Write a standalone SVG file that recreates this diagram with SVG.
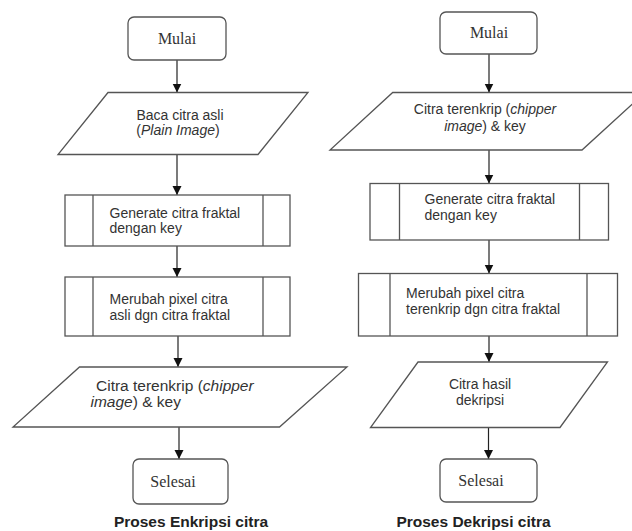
<svg xmlns="http://www.w3.org/2000/svg" width="632" height="531" viewBox="0 0 632 531">
<defs>
<marker id="ah" markerWidth="10" markerHeight="10" refX="9" refY="5" orient="auto" markerUnits="userSpaceOnUse">
<path d="M0,0.5 L9,5 L0,9.5 Z" fill="#111"/>
</marker>
<style>
.sh{fill:#fff;stroke:#555;stroke-width:1.3}
.ln{stroke:#555;stroke-width:1.3}
.cn{stroke:#222;stroke-width:1.2;fill:none;marker-end:url(#ah)}
.s{font-family:"Liberation Sans",Arial,sans-serif;font-size:14px;fill:#333}
.sl{font-family:"Liberation Sans",Arial,sans-serif;font-size:15.5px;fill:#333}
.t{font-family:"Liberation Serif","Times New Roman",serif;font-size:16px;fill:#333;text-anchor:middle}
.ttl{font-family:"Liberation Sans",Arial,sans-serif;font-size:15.5px;font-weight:bold;fill:#222;text-anchor:middle}
.c{text-anchor:middle}
</style>
</defs>
<rect width="632" height="531" fill="#fff"/>
<g id="connectors">
<line class="cn" x1="177" y1="60" x2="177" y2="92.5"/>
<line class="cn" x1="177" y1="154.5" x2="177" y2="195"/>
<line class="cn" x1="177" y1="246" x2="177" y2="277"/>
<line class="cn" x1="178" y1="336" x2="178" y2="367"/>
<line class="cn" x1="179" y1="427" x2="179" y2="459"/>
<line class="cn" x1="489" y1="54" x2="489" y2="92.5"/>
<line class="cn" x1="489" y1="150" x2="489" y2="183.5"/>
<line class="cn" x1="489" y1="240" x2="489" y2="273.5"/>
<line class="cn" x1="489" y1="336" x2="489" y2="362"/>
<line class="cn" x1="488.5" y1="427.5" x2="488.5" y2="459"/>
</g>
<g id="mulai1">
<rect class="sh" x="128" y="17" width="98" height="43" rx="6"/>
<text class="t" x="177" y="44">Mulai</text>
</g>
<g id="baca">
<polygon class="sh" points="108,92.5 308,92.5 258,154.5 58,154.5"/>
<text class="s c" x="180" y="119.5">Baca citra asli</text>
<text class="s c" x="178" y="134.5">(<tspan font-style="italic">Plain Image</tspan>)</text>
</g>
<g id="generate1">
<rect class="sh" x="65" y="195" width="225" height="51"/>
<line class="ln" x1="93" y1="195" x2="93" y2="246"/>
<line class="ln" x1="263" y1="195" x2="263" y2="246"/>
<text class="s" x="109.5" y="217.5">Generate citra fraktal</text>
<text class="s" x="109.5" y="232.5">dengan key</text>
</g>
<g id="merubah1">
<rect class="sh" x="65" y="277" width="225" height="59"/>
<line class="ln" x1="93" y1="277" x2="93" y2="336"/>
<line class="ln" x1="263" y1="277" x2="263" y2="336"/>
<text class="s" x="109.5" y="304">Merubah pixel citra</text>
<text class="s" x="109.5" y="320">asli dgn citra fraktal</text>
</g>
<g id="terenkrip1">
<polygon class="sh" points="79.5,367 347,367 279.5,427 13,427"/>
<text class="sl" x="96" y="391">Citra terenkrip (<tspan font-style="italic">chipper</tspan></text>
<text class="sl" x="90.5" y="407"><tspan font-style="italic">image</tspan>) &amp; key</text>
</g>
<g id="selesai1">
<rect class="sh" x="133" y="459" width="95" height="45" rx="6"/>
<text class="t" x="173" y="486.5">Selesai</text>
</g>
<g id="title1">
<text class="ttl" x="191" y="526.5">Proses Enkripsi citra</text>
</g>
<g id="mulai2">
<rect class="sh" x="440" y="12" width="97" height="42" rx="6"/>
<text class="t" x="489" y="38">Mulai</text>
</g>
<g id="terenkrip2">
<polygon class="sh" points="392.7,92.5 645,92.5 582,150 330,150"/>
<text class="s c" x="485" y="114">Citra terenkrip (<tspan font-style="italic">chipper</tspan></text>
<text class="s c" x="485" y="130.5"><tspan font-style="italic">image</tspan>) &amp; key</text>
</g>
<g id="generate2">
<rect class="sh" x="370" y="183.5" width="238.5" height="56.5"/>
<line class="ln" x1="399.5" y1="183.5" x2="399.5" y2="240"/>
<line class="ln" x1="579.5" y1="183.5" x2="579.5" y2="240"/>
<text class="s" x="424.5" y="204">Generate citra fraktal</text>
<text class="s" x="424.5" y="219.5">dengan key</text>
</g>
<g id="merubah2">
<rect class="sh" x="358.5" y="273.5" width="259" height="62.5"/>
<line class="ln" x1="390" y1="273.5" x2="390" y2="336"/>
<line class="ln" x1="587" y1="273.5" x2="587" y2="336"/>
<text class="s" x="406" y="297.5">Merubah pixel citra</text>
<text class="s" x="406" y="313.5">terenkrip dgn citra fraktal</text>
</g>
<g id="hasil">
<polygon class="sh" points="418,362 607.5,362 560,427.5 370.5,427.5"/>
<text class="s c" x="480" y="389">Citra hasil</text>
<text class="s c" x="480" y="405">dekripsi</text>
</g>
<g id="selesai2">
<rect class="sh" x="440" y="459" width="97" height="43" rx="6"/>
<text class="t" x="481" y="486">Selesai</text>
</g>
<g id="title2">
<text class="ttl" x="473.5" y="526.5">Proses Dekripsi citra</text>
</g>
</svg>
